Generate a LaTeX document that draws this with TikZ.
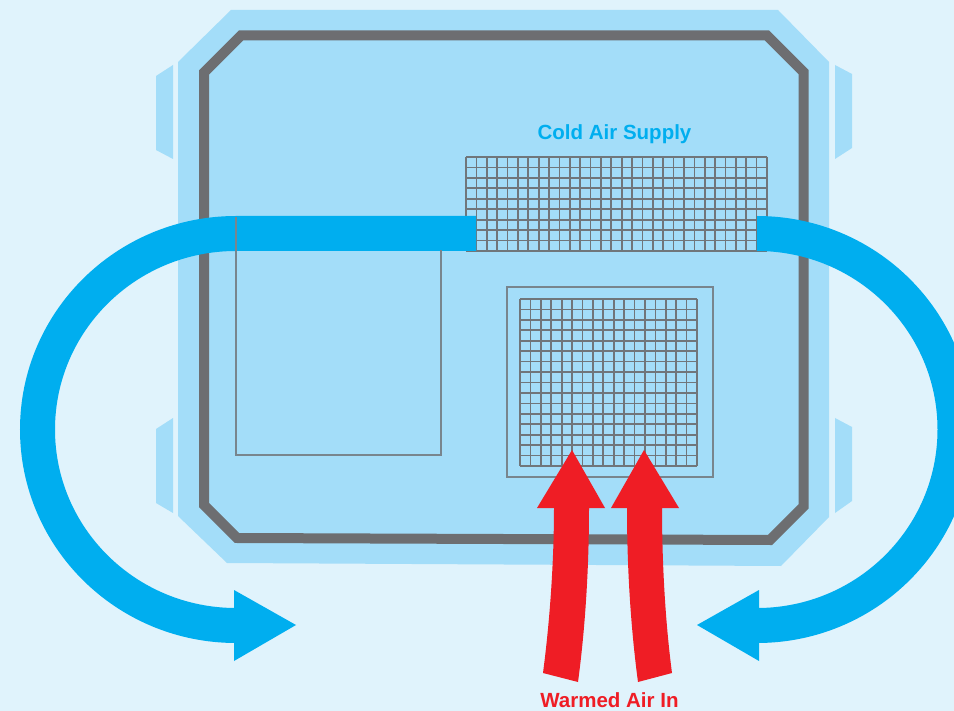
\documentclass[tikz,border=0pt]{standalone}
\usepackage{xcolor}
\usepackage{fontspec}
\setmainfont{Liberation Sans}
\usetikzlibrary{positioning}
\definecolor{roomback}{HTML}{E0F3FC}
\definecolor{panelblue}{HTML}{A3DDF9}
\definecolor{framegray}{HTML}{6D6E71}
\definecolor{gridgray}{HTML}{70767B}
\definecolor{coldblue}{HTML}{00AEEF}
\definecolor{warmred}{HTML}{EF1D25}
\tikzset{
  panel/.style={fill=panelblue},
  gridline/.style={draw=gridgray, line width=1.7pt},
  coldflow/.style={draw=coldblue, line width=35pt},
  coldhead/.style={fill=coldblue},
  warmflow/.style={fill=warmred},
  airlabel/.style={font=\fontsize{20.5}{22}\selectfont\bfseries}
}

\begin{document}
\begin{tikzpicture}[x=1pt,y=-1pt]
    \clip (0,0) rectangle (954,711);
    \fill[roomback] (0,0) rectangle (954,711);
    % cabinet and side tabs
    \fill[panel] (231,10) -- (778,10) -- (829,62) -- (829,517) -- (781,566) -- (227,563) -- (178,516) -- (178,62) -- cycle;
    \fill[panel] (156,76) -- (173,65) -- (173,159) -- (156,150) -- cycle;
    \fill[panel] (156,429) -- (173,418) -- (173,513) -- (156,503) -- cycle;
    \fill[panel] (835,65) -- (852,74) -- (852,148) -- (835,159) -- cycle;
    \fill[panel] (835,418) -- (852,427) -- (852,501) -- (835,513) -- cycle;
    \draw[framegray, line width=10pt] (241,35.5) -- (767,35.5) -- (803.5,72) -- (803.5,506.5) -- (770,540) -- (237,538) -- (204,505) -- (204,72.5) -- cycle;
    % grilles
    \draw[gridgray!85!panelblue, line width=1.5pt] (507,287) rectangle (713,477);
    \foreach \i in {0,...,29}
      \draw[gridline] ({466+\i*301/29},157) -- ({466+\i*301/29},251);
    \foreach \i in {0,...,9}
      \draw[gridline] (466,{157+\i*94/9}) -- (767,{157+\i*94/9});
    \foreach \i in {0,...,17}
      \draw[gridline] ({520+\i*177/17},299) -- ({520+\i*177/17},466);
    \foreach \i in {0,...,16}
      \draw[gridline] (520,{299+\i*167/16}) -- (697,{299+\i*167/16});
    % cold air
    \coordinate (coldleft) at (476,233.5);
    \coordinate (coldright) at (757,233.5);
    \draw[coldflow] (coldleft) -- (236,233.5) arc[start angle=-90, end angle=-270, x radius=198.5, y radius=196] -- (240,625.5);
    \draw[coldflow] (coldright) arc[start angle=-90, end angle=90, x radius=198, y radius=196] -- (755,625.5);
    \fill[coldhead] (234,590) -- (296,625) -- (234,661) -- cycle;
    \fill[coldhead] (759,590) -- (697,625) -- (759,661) -- cycle;
    \draw[gridgray!85!panelblue, line width=1.2pt] (236,217) -- (236,455) -- (441,455) -- (441,250);
    % warm air
    \fill[warmflow] (543,673) .. controls (550,620) and (554,560) .. (554,508) -- (537,508) -- (572,450) -- (605,508) -- (589,508) .. controls (589,570) and (585,630) .. (578,682) -- cycle;
    \fill[warmflow] (672,673) .. controls (665,620) and (662,560) .. (662,508) -- (679,508) -- (644,450) -- (611,508) -- (627,508) .. controls (627,570) and (631,630) .. (638,682) -- cycle;
    \node[airlabel, text=coldblue] (coldlabel) at (614.5,134) {Cold Air Supply};
    \node[airlabel, text=warmred] (warmlabel) at (609.5,700) {Warmed Air In};
  \end{tikzpicture}
\end{document}
